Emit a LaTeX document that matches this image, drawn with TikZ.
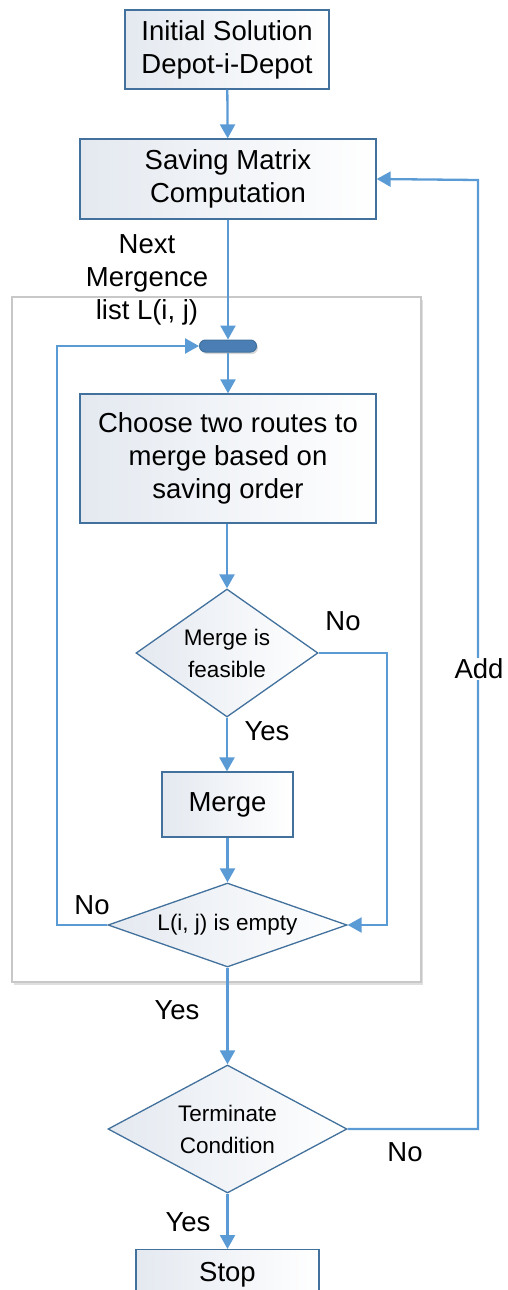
\documentclass[tikz,border=0pt]{standalone}
\usepackage{fontspec}
\setmainfont{Liberation Sans}
\usetikzlibrary{shapes.geometric,arrows.meta,shadows}
\definecolor{arr}{HTML}{5B9BD5}
\definecolor{bord}{HTML}{41719C}
\definecolor{boxl}{HTML}{E4E9F0}
\definecolor{barf}{HTML}{4A7EB5}
\definecolor{cont}{HTML}{C8C8C8}
\tikzset{
  x=1pt,y=-1pt,
  boxn/.style={draw=bord,line width=1.3pt,left color=boxl,right color=white,
    inner sep=0pt,align=center,font=\fontsize{27.5}{33}\selectfont},
  dia/.style={diamond,draw=bord,line width=1.3pt,left color=boxl,right color=white,
    inner sep=0pt,align=center,font=\fontsize{22.5}{32}\selectfont},
  lbl/.style={font=\fontsize{27.5}{33}\selectfont,inner sep=1pt,align=center},
  flow/.style={draw=arr,line width=2.3pt,-{Triangle[length=14pt,width=15pt]}},
  flowline/.style={draw=arr,line width=2.3pt},
}
\begin{document}
\begin{tikzpicture}
\useasboundingbox (0,0) rectangle (507,1290);
\clip (0,0) rectangle (507,1290);
% container
\node[draw=cont,line width=1.5pt,fill=white,minimum width=409pt,minimum height=685pt,
  inner sep=0pt,drop shadow={shadow xshift=2pt,shadow yshift=-3pt,opacity=0.25}]
  (cont) at (216.5,639.5) {};
% nodes
\node[boxn,minimum width=204pt,minimum height=79pt] (init) at (227,49.5) {Initial Solution\\Depot-i-Depot};
\node[boxn,minimum width=296pt,minimum height=80pt] (save) at (228,179) {Saving Matrix\\Computation};
\node[lbl] (next) at (147,280) {Next\\Mergence\\list L(i, j)};
\node[draw=bord,fill=barf,line width=1pt,rounded corners=6pt,minimum width=57pt,minimum height=12pt,inner sep=0pt,
  drop shadow={shadow xshift=1.5pt,shadow yshift=-2pt,opacity=0.3}] (bar) at (228,346) {};
\node[boxn,minimum width=296pt,minimum height=129pt] (choose) at (228,458.5) {Choose two routes to\\merge based on\\saving order};
\node[dia,aspect=1.42,minimum width=182pt,minimum height=128pt] (feas) at (227,653) {Merge is\\feasible};
\node[boxn,minimum width=131pt,minimum height=65pt] (merge) at (227.5,804.5) {Merge};
\node[dia,aspect=2.85,minimum width=239pt,minimum height=84pt] (empty) at (227.5,925) {L(i, j) is empty};
\node[dia,aspect=1.87,minimum width=239pt,minimum height=128pt] (term) at (227.5,1129) {Terminate\\Condition};
\node[boxn,minimum width=183pt,minimum height=50pt,anchor=north] (stop) at (227.5,1249) {Stop};
% coordinates
\coordinate (c1) at (387,653);
\coordinate (c2) at (387,925);
\coordinate (c3) at (57,925);
\coordinate (c4) at (57,346);
\coordinate (c5) at (478,1129);
\coordinate (c6) at (478,180);
% connectors
\draw[flow] (init) -- (save);
\draw[flow] (save.south -| bar.north) -- (bar.north);
\draw[flow] (bar) -- (choose.north -| bar);
\draw[flow] (choose.south -| feas.north) -- (feas.north);
\draw[flow] (feas.south) -- (merge.north -| feas.south);
\draw[flow] (merge) -- (empty);
\draw[flow] (empty) -- (term);
\draw[flow] (term) -- (stop);
\draw[flow] (feas.east) -- (c1) -- (c2) -- (empty.east);
\draw[flow] (empty.west) -- (c3) -- (c4) -- (bar.west);
\draw[flow] (term.east) -- (c5) -- (c6) -- (save.east);
% labels
\node[lbl] (lno1) at (343,621) {No};
\node[lbl] (lyes1) at (267,731) {Yes};
\node[lbl] (lno2) at (92,905) {No};
\node[lbl] (lyes2) at (177,1010) {Yes};
\node[lbl,fill=white] (ladd) at (479,669) {Add};
\node[lbl] (lno3) at (405,1152) {No};
\node[lbl] (lyes3) at (188,1222) {Yes};
\end{tikzpicture}
\end{document}
